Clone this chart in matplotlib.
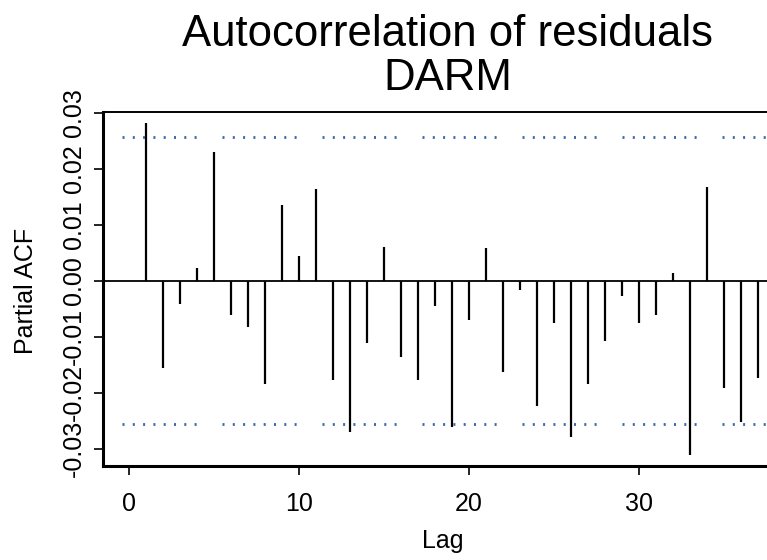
import matplotlib
matplotlib.use('Agg')
from matplotlib import pyplot as plt

# partial autocorrelations of the residuals, lags 1..37 (the rest is cut off)
lags = list(range(1, 38))
pacf = [0.0281, -0.0155, -0.0042, 0.0023, 0.0230, -0.0061, -0.0083, -0.0185,
        0.0136, 0.0045, 0.0164, -0.0177, -0.0271, -0.0112, 0.0060, -0.0137,
        -0.0177, -0.0046, -0.0261, -0.0071, 0.0059, -0.0163, -0.0017, -0.0224,
        -0.0076, -0.0279, -0.0185, -0.0108, -0.0028, -0.0076, -0.0061, 0.0013,
        -0.0312, 0.0168, -0.0191, -0.0253, -0.0173]
conf_limit = 0.0256
xticks = [0, 10, 20, 30]
yticks = [-0.03, -0.02, -0.01, 0.00, 0.01, 0.02, 0.03]

plt.rcParams['font.family'] = ['Liberation Sans', 'DejaVu Sans']
plt.rcParams['axes.unicode_minus'] = False
plt.rcParams['lines.scale_dashes'] = False

W, H = 767, 560
fig = plt.figure(figsize=(W / 100, H / 100), dpi=100)
# plot region runs past the right edge of the picture, like the cropped original
left, right, top, bottom = 103.5, 790, 112, 466
ax = fig.add_axes([left / W, 1 - bottom / H, (right - left) / W, (bottom - top) / H])

ax.vlines(lags, 0, pacf, color='black', linewidth=1.6)
ax.axhline(0, color='black', linewidth=1.3)

# R style "dashed" limits, rendered as groups of 8 dots
px = 0.72
dots = []
for i in range(8):
    dots += [2.0 * px, 8.3 * px]
dots[-1] = 100 * px - sum(dots[:-1])
for c in (conf_limit, -conf_limit):
    ax.axhline(c, color='#3a66a6', linewidth=2.0, solid_capstyle='butt',
               dash_capstyle='butt', linestyle=(81.0 * px, tuple(dots)))

ax.set_xlim(-1.5, 38.88)
ax.set_ylim(-0.03309, 0.03013)
ax.set_xticks(xticks)
ax.set_xticklabels([str(t) for t in xticks])
ax.set_yticks(yticks)
ax.set_yticklabels(['%.2f' % t for t in yticks], rotation=90, va='center')

ax.tick_params(axis='both', labelsize=18, length=6.5, width=1.2, color='black')
ax.tick_params(axis='x', pad=12)
ax.tick_params(axis='y', pad=6)
for side in ('left', 'bottom'):
    ax.spines[side].set_linewidth(2.2)
for side in ('top', 'right'):
    ax.spines[side].set_linewidth(1.4)

ax.set_xlabel('Lag', fontsize=18)
ax.xaxis.set_label_coords((443 - left) / (right - left), (bottom - 529.3) / (bottom - top))
ax.set_ylabel('Partial ACF', fontsize=18)
ax.yaxis.set_label_coords((38 - left) / (right - left), (bottom - 291) / (bottom - top))

fig.text(448 / W, 1 - 14 / H, 'Autocorrelation of residuals\nDARM',
         ha='center', va='top', fontsize=31.5, linespacing=1.09)

fig.savefig('out.png', dpi=100)
